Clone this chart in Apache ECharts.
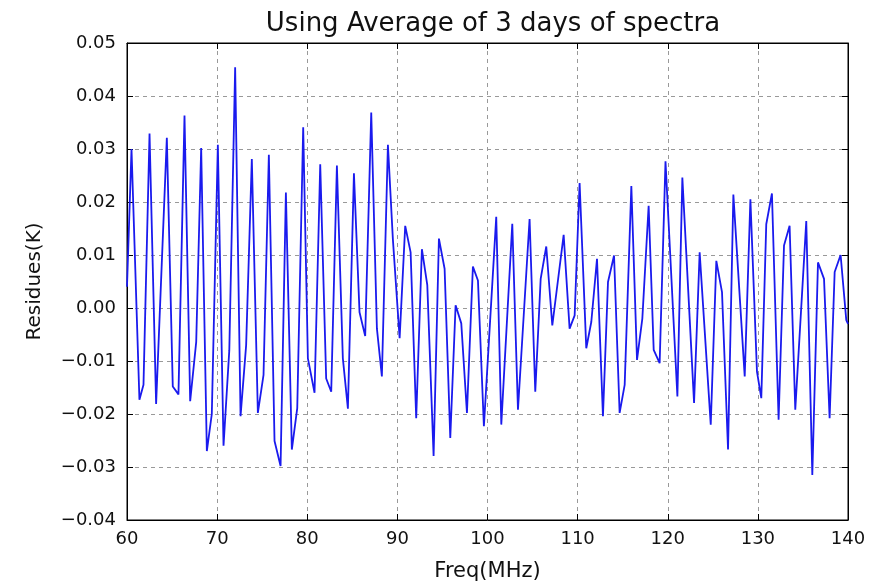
<!DOCTYPE html>
<html lang="en">
<head>
    <meta charset="UTF-8">
    <title>Residues</title>
    <script src="https://cdn.jsdelivr.net/npm/echarts@6/dist/echarts.min.js"></script>
</head>
<style>
    html,body{
        margin:0;
        padding:0;
        background:#fff;
    }
    #chart{
        width:872px;
        height:584px;
    }
</style>
<body>
    <div id="chart"></div>
    <script>
        // frequency (MHz) and residue (K) pairs
        var freq = [60.0, 60.5, 61.38, 61.83, 62.5, 63.23, 64.42, 65.08, 65.71, 66.38,
            67.01, 67.68, 68.23, 68.86, 69.41, 70.08, 70.71, 71.35, 72.0, 72.6,
            73.22, 73.85, 74.52, 75.15, 75.74, 76.37, 77.04, 77.63, 78.29, 78.89,
            79.55, 80.07, 80.81, 81.44, 82.1, 82.66, 83.29, 83.95, 84.51, 85.18,
            85.8, 86.43, 87.1, 87.73, 88.28, 88.95, 89.5, 90.25, 90.87, 91.47,
            92.09, 92.72, 93.32, 94.02, 94.61, 95.24, 95.87, 96.46, 97.09, 97.72,
            98.38, 98.94, 99.6, 100.97, 101.53, 102.75, 103.38, 104.67, 105.3, 105.9,
            106.52, 107.19, 108.45, 109.11, 109.67, 110.22, 110.96, 111.52, 112.15, 112.81,
            113.37, 114.04, 114.66, 115.22, 115.96, 116.59, 117.18, 117.88, 118.44, 119.1,
            119.75, 121.07, 121.62, 122.92, 123.54, 124.77, 125.39, 126.02, 126.69, 127.28,
            128.54, 129.17, 129.9, 130.38, 130.93, 131.56, 132.3, 132.9, 133.52, 134.15,
            135.37, 136.04, 136.67, 137.34, 137.96, 138.52, 139.18, 139.81, 140.0];
        var resid = [0.004, 0.030, -0.0173, -0.0145, 0.0329, -0.0181, 0.0321, -0.0148, -0.0163, 0.0363,
            -0.0176, -0.0064, 0.0302, -0.027, -0.020, 0.0308, -0.026, -0.008, 0.0454, -0.0204,
            -0.007, 0.0281, -0.0198, -0.0126, 0.0289, -0.0251, -0.0298, 0.0218, -0.0267, -0.0189,
            0.0341, -0.0095, -0.016, 0.0271, -0.0133, -0.0158, 0.0269, -0.0095, -0.019, 0.0254,
            -0.0008, -0.0053, 0.0369, -0.0039, -0.0129, 0.0308, 0.013, -0.0057, 0.0155, 0.0105,
            -0.0208, 0.0111, 0.0043, -0.0279, 0.0131, 0.0074, -0.0245, 0.0005, -0.0029, -0.0198,
            0.0078, 0.0052, -0.0223, 0.0172, -0.022, 0.0159, -0.0192, 0.0168, -0.0158, 0.0055,
            0.0116, -0.0033, 0.0138, -0.0039, -0.0014, 0.0236, -0.0076, -0.0026, 0.0093, -0.0204,
            0.0049, 0.0099, -0.0198, -0.0145, 0.023, -0.0098, -0.002, 0.0193, -0.0079, -0.0104,
            0.0277, -0.0167, 0.0246, -0.0179, 0.0105, -0.022, 0.0089, 0.003, -0.0267, 0.0214,
            -0.0129, 0.0205, -0.012, -0.017, 0.0158, 0.0216, -0.0211, 0.0118, 0.0155, -0.0192,
            0.0164, -0.0315, 0.0086, 0.0055, -0.0208, 0.0068, 0.01, -0.0023, -0.003];

        var font = 'DejaVu Sans';
        var pts = freq.map(function(f, i){ return [f, resid[i]]; });

        var chart = echarts.init(document.getElementById('chart'));

        var tickIn = {show:true, inside:true, length:6, lineStyle:{color:'#000', width:1}};
        var dashed = {show:true, lineStyle:{color:'#999', type:[4,4], width:1}};
        var frame = {show:true, onZero:false, lineStyle:{color:'#000'}};

        var option = {
            animation:false,
            backgroundColor:'#fff',
            title:{
                text:'Using Average of 3 days of spectra',
                left:488,
                textAlign:'center',
                top:6,
                textStyle:{fontFamily:font, fontSize:26, fontWeight:'normal', color:'#111'}
            },
            grid:{
                left:127, right:24, top:43, bottom:64,
                outerBoundsMode:'none', containLabel:false,
                show:true, borderColor:'#000', borderWidth:1
            },
            xAxis:[{
                type:'value',
                min:60, max:140, interval:10,
                name:'Freq(MHz)',
                nameLocation:'middle',
                nameGap:41,
                nameTextStyle:{fontFamily:font, fontSize:21, color:'#111'},
                axisLine:frame,
                axisTick:tickIn,
                axisLabel:{fontFamily:font, fontSize:18, color:'#111', margin:10},
                splitLine:dashed
            },{
                type:'value', position:'top',
                min:60, max:140, interval:10,
                axisLine:frame,
                axisTick:tickIn,
                axisLabel:{show:false},
                splitLine:{show:false}
            }],
            yAxis:[{
                type:'value',
                min:-0.04, max:0.05, interval:0.01,
                name:'Residues(K)',
                nameLocation:'middle',
                nameGap:82,
                nameRotate:90,
                nameTextStyle:{fontFamily:font, fontSize:20, color:'#111'},
                axisLine:frame,
                axisTick:tickIn,
                axisLabel:{
                    fontFamily:font, fontSize:18, color:'#111', margin:11,
                    formatter:function(v){
                        var s = Math.abs(v).toFixed(2);
                        return (v < -1e-9 ? '\u2212' : '') + s;
                    }
                },
                splitLine:dashed
            },{
                type:'value', position:'right',
                min:-0.04, max:0.05, interval:0.01,
                axisLine:frame,
                axisTick:tickIn,
                axisLabel:{show:false},
                splitLine:{show:false}
            }],
            series:[{
                type:'line',
                data:pts,
                showSymbol:false,
                lineStyle:{color:'#1a1aee', width:1.8},
                z:3
            }]
        };
        chart.setOption(option);
    </script>
</body>
</html>
